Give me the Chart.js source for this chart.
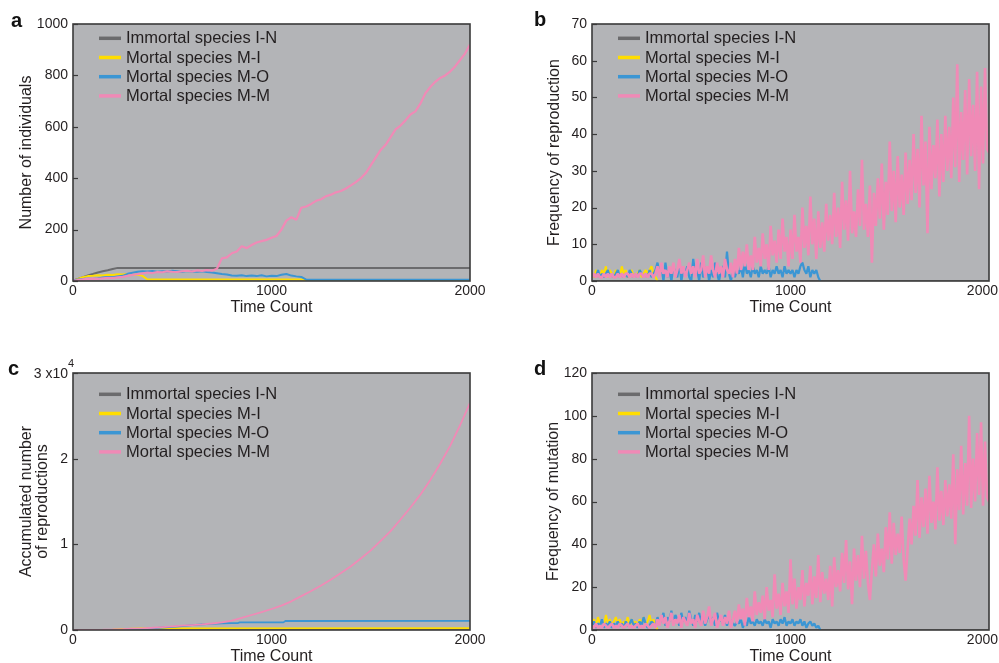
<!DOCTYPE html>
<html>
<head>
<meta charset="utf-8">
<title>Species simulation</title>
<script src="https://cdn.jsdelivr.net/npm/chart.js@4.4.1/dist/chart.umd.min.js"></script>
<style>
  html, body { margin: 0; padding: 0; background: #fff; }
  body { width: 999px; height: 663px; position: relative; overflow: hidden; }
  .panel { position: absolute; }
  .tag { position: absolute; font: bold 20px 'Liberation Sans', Arial, sans-serif; line-height: 20px; color: #111; }
</style>
</head>
<body>
<div class="panel" style="left:0;top:0"><canvas id="chartA" width="500" height="331"></canvas></div>
<div class="panel" style="left:500px;top:0"><canvas id="chartB" width="499" height="331"></canvas></div>
<div class="panel" style="left:0;top:331px"><canvas id="chartC" width="500" height="332"></canvas></div>
<div class="panel" style="left:500px;top:331px"><canvas id="chartD" width="499" height="332"></canvas></div>
<div class="tag" style="left:11px;top:10px">a</div>
<div class="tag" style="left:534px;top:9px">b</div>
<div class="tag" style="left:8px;top:358px">c</div>
<div class="tag" style="left:534px;top:358px">d</div>

<script>
// ---- labels ----
const LEGEND_LABELS = ['Immortal species I-N', 'Mortal species M-I', 'Mortal species M-O', 'Mortal species M-M'];

// ---- a: number of individuals (pink / blue sampled every 25 steps) ----
const aGrayT = [0, 25, 50, 75, 100, 125, 150, 175, 200, 225, 2000];
const aGrayV = [2, 8, 15, 22, 27, 33, 38, 42, 47, 51, 51];
const aYellowT = [0, 25, 50, 75, 100, 125, 150, 175, 200, 225, 250, 275, 300, 325, 350, 375, 1150, 1175, 2000];
const aYellowV = [0, 8, 15, 19, 20, 22, 21, 24, 23, 26, 25, 27, 24, 25, 20, 6, 6, 3, 3];
const aBlueV = [2, 6, 8, 9, 8, 10, 14, 16, 15, 18,
  20, 28, 32, 36, 38, 37, 39, 36, 38, 37,
  40, 38, 36, 39, 37, 36, 38, 35, 33, 30,
  27, 25, 21, 20, 22, 19, 21, 19, 22, 18,
  20, 19, 24, 27, 21, 18, 16, 5];
const aBlueTailT = [2000];
const aBlueTailV = [5];
const aPinkV = [1, 4, 6, 8, 9, 8, 10, 12, 11, 14,
  16, 20, 24, 27, 30, 33, 31, 35, 34, 38,
  36, 35, 38, 40, 37, 41, 39, 42, 40, 48,
  88, 92, 108, 115, 135, 128, 140, 150, 155, 160,
  168, 175, 200, 235, 248, 238, 285, 290, 300, 312,
  318, 330, 336, 345, 350, 360, 372, 385, 400, 420,
  450, 480, 510, 530, 560, 590, 605, 625, 648, 660,
  690, 730, 755, 775, 790, 800, 815, 835, 860, 885,
  920];

// ---- b: frequency of reproduction (sampled every 10 steps) ----
const bGrayT = [0, 2000];
const bGrayV = [0, 0];
const bYellowV = [2, 1, 3, 2, 1, 3, 2, 4, 1, 3, 2, 1, 3, 2, 1, 4, 2, 3, 1, 2,
  3, 1, 2, 2, 3, 1, 2, 3, 2, 3, 4, 2, 1, 0];
const bBlueV = [1, 2, 1, 3, 1, 2, 1, 2, 3, 1, 2, 1, 2, 3, 1, 2, 1, 2, 1, 3,
  2, 1, 2, 1, 3, 2, 1, 2, 1, 3, 1, 2, 3,
  5, 2, 4, 0, 5, 1, 3, 0, 4, 2, 1, 5, 0, 3, 2, 4, 1, 0, 6, 2,
  3, 0, 5, 1, 2, 4, 0, 3, 1, 5, 2, 0, 3, 4, 1, 8, 2, 0, 3,
  1, 3, 2, 4, 1, 5, 2, 3, 1, 4, 2, 3, 1, 4, 2, 3, 2, 4, 1, 3,
  2, 4, 2, 3, 1, 4, 2, 3, 2, 3, 1, 3, 2, 4, 5, 3, 2, 4, 1, 3,
  2, 3, 1, 0];
const bPinkV = [1, 2, 1, 2, 1, 1, 2, 1, 2, 1, 2, 1, 1, 2, 1, 2, 1, 2, 2, 1,
  2, 1, 2, 1, 2, 2, 1, 2, 1, 2, 2, 1, 2,
  4, 1, 5, 2, 3, 1, 4, 2, 5, 1, 3, 6, 2, 4, 1, 3, 5, 2, 4, 1,
  6, 2, 3, 7, 1, 4, 2, 7, 3, 1, 5, 2, 4, 1, 6, 3, 2, 5, 1,
  6, 2, 9, 3, 8, 4, 10, 3,
  7, 3, 12, 5, 9, 4, 13, 6, 10, 3, 15, 7, 11, 5, 14, 6, 17, 8, 12, 4,
  14, 6, 18, 8, 12, 5, 20, 9, 15, 7, 23, 10, 17, 6, 19, 9, 16, 8, 21, 11,
  18, 10, 24, 12, 20, 9, 27, 14, 22, 11, 30, 13, 19, 12, 25, 15, 33, 14, 21, 12,
  26, 5, 24, 15, 28, 17, 32, 14, 27, 18, 38, 19, 30, 16, 34, 20, 29, 18, 35, 21,
  33, 22, 40, 24, 36, 20, 45, 26, 38, 13, 42, 25, 37, 28, 44, 23, 40, 27, 45, 30,
  42, 28, 50, 31, 59, 27, 46, 33, 52, 29, 55, 34, 48, 30, 57, 25, 53, 32, 58, 36,
  35];

// ---- c: accumulated reproductions ----
const cGrayT = [0, 2000];
const cGrayV = [0, 0];
const cYellowT = [0, 150, 200, 250, 300, 350, 400, 2000];
const cYellowV = [0, 10, 50, 110, 160, 190, 200, 205];
const cBlueT = [0, 200, 250, 300, 350, 400, 450, 500, 550, 600, 650, 700, 750, 800, 830, 840, 1060, 1070, 2000];
const cBlueV = [0, 0, 20, 50, 110, 180, 290, 370, 460, 560, 650, 720, 780, 800, 810, 880, 890, 1050, 1060];
const cPinkV = [0, 5, 15, 30, 60, 100, 150, 200, 260, 340,
  420, 500, 580, 660, 760, 900, 1100, 1420, 1750, 2080,
  2450, 2850, 3350, 3950, 4550, 5200, 5900, 6650, 7450, 8350,
  9300, 10400, 11550, 12900, 14300, 15800, 17500, 19400, 21500, 23900,
  26500];

// ---- d: frequency of mutation (sampled every 10 steps) ----
const dGrayT = [0, 2000];
const dGrayV = [0, 0];
const dYellowV = [3, 5, 2, 6, 3, 4, 2, 7, 3, 5, 2, 4, 6, 3, 5, 2, 4, 3, 6, 2,
  5, 3, 4, 2, 5, 3, 6, 2, 4, 7, 3, 5, 2, 0];
const dBlueV = [2, 4, 1, 3, 2, 5, 1, 3, 2, 4, 1, 3, 2, 4, 2, 3, 1, 4, 2, 3,
  5, 2, 3, 1, 4, 2, 6, 3, 1, 2, 4, 3, 2,
  6, 3, 5, 8, 2, 6, 4, 9, 3, 7, 5, 2, 8, 4, 6, 3, 9, 5, 2, 7,
  4, 8, 3, 6, 2, 5, 7, 3, 6, 2, 8, 4, 5, 3, 7, 2, 6, 4, 3,
  2, 4, 3, 5, 1, 4, 2, 6, 3, 4, 2, 5, 3, 4, 2, 5, 3, 4, 1, 5,
  3, 4, 2, 5, 3, 6, 2, 4, 3, 5, 2, 4, 3, 5, 2, 4, 1, 3, 4, 2,
  3, 1, 2, 0];
const dPinkV = [2, 1, 3, 1, 2, 1, 3, 2, 1, 2, 3, 1, 2, 1, 3, 2, 1, 2, 3, 1,
  2, 1, 2, 3, 1, 2, 1, 3, 2, 1, 2, 3, 1,
  5, 2, 7, 3, 6, 1, 4, 8, 2, 5, 3, 7, 1, 6, 4, 2, 8, 3, 5, 1,
  7, 4, 2, 9, 3, 6, 11, 2, 5, 8, 1, 4, 7, 2, 6, 3, 9, 1, 5,
  9, 3, 12, 5, 10, 2, 15, 6, 11, 4, 18, 7, 13,
  8, 16, 5, 20, 9, 14, 6, 26, 10, 17, 7, 22, 11, 18, 8,
  33, 12, 24, 10, 20, 14, 28, 11, 22, 16, 30, 12, 25, 15, 35, 13, 27, 17, 24, 14,
  30, 11, 34, 20, 28, 18, 36, 22, 42, 19, 32, 12, 38, 23, 35, 20, 44, 24, 37, 22,
  14, 28, 40, 25, 45, 30, 38, 27, 48, 33, 55, 31, 50, 35, 45, 36, 53, 33, 23, 38,
  52, 40, 58, 44, 70, 43, 62, 48, 66, 45, 72, 50, 60, 47, 76, 51, 65, 49, 70, 53,
  68, 52, 82, 40, 75, 56, 86, 54, 78, 58, 100, 57, 80, 60, 92, 63, 97, 58, 88, 62,
  60];

// ---- styling ----
const FONT = "'Liberation Sans', Arial, Helvetica, sans-serif";
const TEXT = '#231f20';
const PLOT_BG = '#b3b4b7';
const FRAME = '#3a3a3a';
const COLORS = ['#6b6b6d', '#ffdd00', '#3b96d4', '#f08ab6'];

function stepSeries(start, step, values) {
  return values.map((v, i) => ({ x: start + i * step, y: v }));
}
function pairs(times, values) {
  return times.map((t, i) => ({ x: t, y: values[i] }));
}

// widths: one per series (gray, yellow, blue, pink)
function makeDatasets(series, widths) {
  return series.map((d, i) => ({
    label: LEGEND_LABELS[i],
    data: d,
    borderColor: COLORS[i],
    backgroundColor: COLORS[i],
    borderWidth: widths[i],
    pointRadius: 0,
    tension: 0,
    borderJoinStyle: 'bevel',
    order: 4 - i   // pink drawn last
  }));
}

// plot background, frame, inward y ticks, legend inside the plot
const panelDecor = {
  id: 'panelDecor',
  beforeDatasetsDraw(chart) {
    const { ctx, chartArea: a } = chart;
    ctx.save();
    ctx.fillStyle = PLOT_BG;
    ctx.fillRect(a.left, a.top, a.right - a.left, a.bottom - a.top);
    ctx.restore();
  },
  afterDatasetsDraw(chart, args, opts) {
    const { ctx, chartArea: a } = chart;
    const y = chart.scales.y;
    ctx.save();
    ctx.strokeStyle = FRAME;
    ctx.lineWidth = 1.2;
    y.ticks.forEach(t => {
      const py = Math.round(y.getPixelForValue(t.value)) + 0.5;
      ctx.beginPath();
      ctx.moveTo(a.left, py);
      ctx.lineTo(a.left + 5, py);
      ctx.stroke();
    });
    ctx.lineWidth = 1.6;
    ctx.strokeRect(a.left, a.top, a.right - a.left, a.bottom - a.top);

    ctx.font = '16.5px ' + FONT;
    ctx.textBaseline = 'middle';
    ctx.textAlign = 'left';
    chart.data.datasets.forEach((ds, i) => {
      const yy = a.top + opts.legendTop + i * 19.2;
      ctx.strokeStyle = ds.borderColor;
      ctx.lineWidth = 3.5;
      ctx.beginPath();
      ctx.moveTo(a.left + 26, yy);
      ctx.lineTo(a.left + 48, yy);
      ctx.stroke();
      ctx.fillStyle = TEXT;
      ctx.fillText(ds.label, a.left + 53, yy + 0.5);
    });
    ctx.restore();
  }
};

// last x label of the right-hand panels sits against the page edge
const edgeLabel = {
  id: 'edgeLabel',
  afterDraw(chart) {
    const { ctx } = chart;
    const x = chart.scales.x;
    ctx.save();
    ctx.fillStyle = TEXT;
    ctx.font = '14px ' + FONT;
    ctx.textAlign = 'right';
    ctx.textBaseline = 'middle';
    ctx.fillText(String(x.max), chart.width - 1, x.top + 2 + 8.4);
    ctx.restore();
  }
};

// "3 x10^4" label on top of panel c
const expLabel = {
  id: 'expLabel',
  afterDraw(chart) {
    const { ctx } = chart;
    const y = chart.scales.y;
    const py = y.getPixelForValue(30000);
    const right = chart.chartArea.left - 5;
    ctx.save();
    ctx.fillStyle = TEXT;
    ctx.textBaseline = 'middle';
    ctx.textAlign = 'right';
    ctx.font = '14px ' + FONT;
    ctx.fillText('3 x10', right, py + 1);
    ctx.textAlign = 'left';
    ctx.font = '11px ' + FONT;
    ctx.fillText('4', right, py - 9);
    ctx.restore();
  }
};

function makeChart(id, p) {
  const tickFont = { family: FONT, size: 14, lineHeight: 1.2 };
  const titleFont = { family: FONT, size: 16, lineHeight: 1 };
  const xCb = p.edgeX ? (v => (v === 2000 ? '' : String(v))) : (v => String(v));
  return new Chart(document.getElementById(id), {
    type: 'line',
    data: { datasets: p.datasets },
    options: {
      responsive: false,
      animation: false,
      events: [],
      layout: { padding: { left: 0, top: p.top, right: p.right, bottom: 0 } },
      plugins: {
        legend: { display: false },
        tooltip: { enabled: false },
        panelDecor: { legendTop: p.legendTop }
      },
      scales: {
        x: {
          type: 'linear', min: 0, max: 2000,
          ticks: { stepSize: 1000, padding: 2, color: TEXT, font: tickFont, maxRotation: 0, callback: xCb },
          grid: { display: false, drawTicks: false },
          border: { display: false },
          title: { display: true, text: 'Time Count', color: TEXT, font: titleFont, padding: { top: 0, bottom: p.xTitlePad } },
          afterFit(s) { s.height = p.xHeight; s.paddingLeft = 0; s.paddingRight = 0; }
        },
        y: {
          type: 'linear', min: 0, max: p.yMax,
          ticks: { stepSize: p.yStep, padding: 5, color: TEXT, font: tickFont, callback: p.tickCb || (v => String(v)) },
          grid: { display: false, drawTicks: false },
          border: { display: false },
          title: { display: true, text: p.yTitle, color: TEXT, font: titleFont, padding: { top: p.yTitlePad, bottom: 0 } },
          afterFit(s) { s.width = p.yWidth; s.paddingTop = 0; s.paddingBottom = 0; }
        }
      }
    },
    plugins: [panelDecor].concat(p.extra || [])
  });
}

makeChart('chartA', {
  datasets: makeDatasets([
    pairs(aGrayT, aGrayV),
    pairs(aYellowT, aYellowV),
    stepSeries(0, 25, aBlueV).concat(pairs(aBlueTailT, aBlueTailV)),
    stepSeries(0, 25, aPinkV)
  ], [2, 2, 2, 2.2]),
  top: 24, right: 30, yWidth: 73, xHeight: 50, xTitlePad: 15, yTitlePad: 19,
  yMax: 1000, yStep: 200, yTitle: 'Number of individuals', legendTop: 14.3
});

makeChart('chartB', {
  datasets: makeDatasets([
    pairs(bGrayT, bGrayV),
    stepSeries(0, 10, bYellowV),
    stepSeries(0, 10, bBlueV),
    stepSeries(0, 10, bPinkV)
  ], [1.5, 2, 2.2, 2.6]),
  top: 24, right: 10, yWidth: 92, xHeight: 50, xTitlePad: 15, yTitlePad: 47,
  yMax: 70, yStep: 10, yTitle: 'Frequency of reproduction', legendTop: 14.3,
  edgeX: true, extra: [edgeLabel]
});

makeChart('chartC', {
  datasets: makeDatasets([
    pairs(cGrayT, cGrayV),
    pairs(cYellowT, cYellowV),
    pairs(cBlueT, cBlueV),
    stepSeries(0, 50, cPinkV)
  ], [1.6, 1.8, 1.8, 1.8]),
  top: 42, right: 30, yWidth: 73, xHeight: 33, xTitlePad: -1.3, yTitlePad: 19,
  yMax: 30000, yStep: 10000, yTitle: ['Accumulated number', 'of reproductions'], legendTop: 21.3,
  tickCb: v => (v === 30000 ? '' : String(v / 10000)),
  extra: [expLabel]
});

makeChart('chartD', {
  datasets: makeDatasets([
    pairs(dGrayT, dGrayV),
    stepSeries(0, 10, dYellowV),
    stepSeries(0, 10, dBlueV),
    stepSeries(0, 10, dPinkV)
  ], [1.5, 2, 2.2, 2.6]),
  top: 42, right: 10, yWidth: 92, xHeight: 33, xTitlePad: -1.3, yTitlePad: 46,
  yMax: 120, yStep: 20, yTitle: 'Frequency of mutation', legendTop: 21.3,
  edgeX: true, extra: [edgeLabel]
});
</script>
</body>
</html>
